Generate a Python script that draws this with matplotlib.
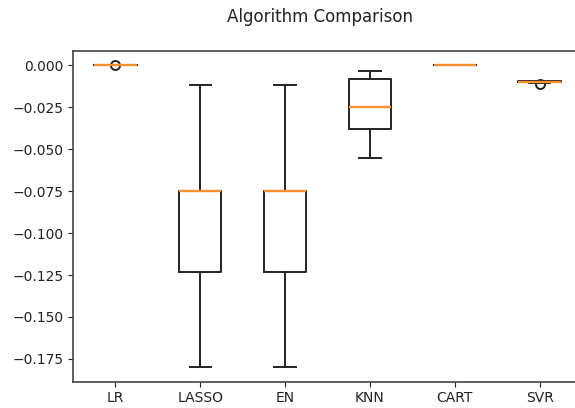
import matplotlib
matplotlib.use("Agg")
import matplotlib.pyplot as plt

names = ["LR", "LASSO", "EN", "KNN", "CART", "SVR"]
whislo = [0.0, -0.1797, -0.1797, -0.0551, 0.0, -0.0102]
q1 = [0.0, -0.1230, -0.1230, -0.0378, 0.0, -0.0101]
med = [0.0, -0.0748, -0.0748, -0.0245, 0.0, -0.0098]
q3 = [0.0, -0.0746, -0.0746, -0.0080, 0.0, -0.0093]
whishi = [0.0, -0.0115, -0.0115, -0.0034, 0.0, -0.0090]
fliers = [[0.0002], [], [], [], [], [-0.0113]]

stats = []
for i, n in enumerate(names):
    stats.append(dict(label=n, whislo=whislo[i], q1=q1[i], med=med[i],
                      q3=q3[i], whishi=whishi[i], fliers=fliers[i]))

fig = plt.figure(figsize=(5.75, 4.08), dpi=100)
ax = fig.add_axes([73 / 575, (408 - 381.7) / 408, 509 / 575, 330.5 / 408])
lw = 1.4
ax.bxp(stats,
       boxprops=dict(linewidth=lw, color="#222222"),
       whiskerprops=dict(linewidth=lw, color="#222222"),
       capprops=dict(linewidth=lw, color="#222222"),
       medianprops=dict(linewidth=1.7, color="#ff9030"),
       flierprops=dict(marker="o", markersize=6.5, markerfacecolor="none",
                       markeredgecolor="#222222", markeredgewidth=1.4))
ax.set_xlim(0.5, 6.5)
ax.set_ylim(-0.1886, 0.0085)
ax.set_yticks([0.0, -0.025, -0.05, -0.075, -0.1, -0.125, -0.15, -0.175])
ax.set_yticklabels(["0.000", "\u22120.025", "\u22120.050", "\u22120.075",
                    "\u22120.100", "\u22120.125", "\u22120.150", "\u22120.175"])
ax.tick_params(labelsize=10, colors="#222222")
for s in ax.spines.values():
    s.set_color("#444444")
    s.set_linewidth(1.2)
fig.text(320 / 575, 1 - 17 / 408, "Algorithm Comparison", ha="center",
         va="center", fontsize=12, color="#222222")
fig.savefig("out.png", dpi=100)
